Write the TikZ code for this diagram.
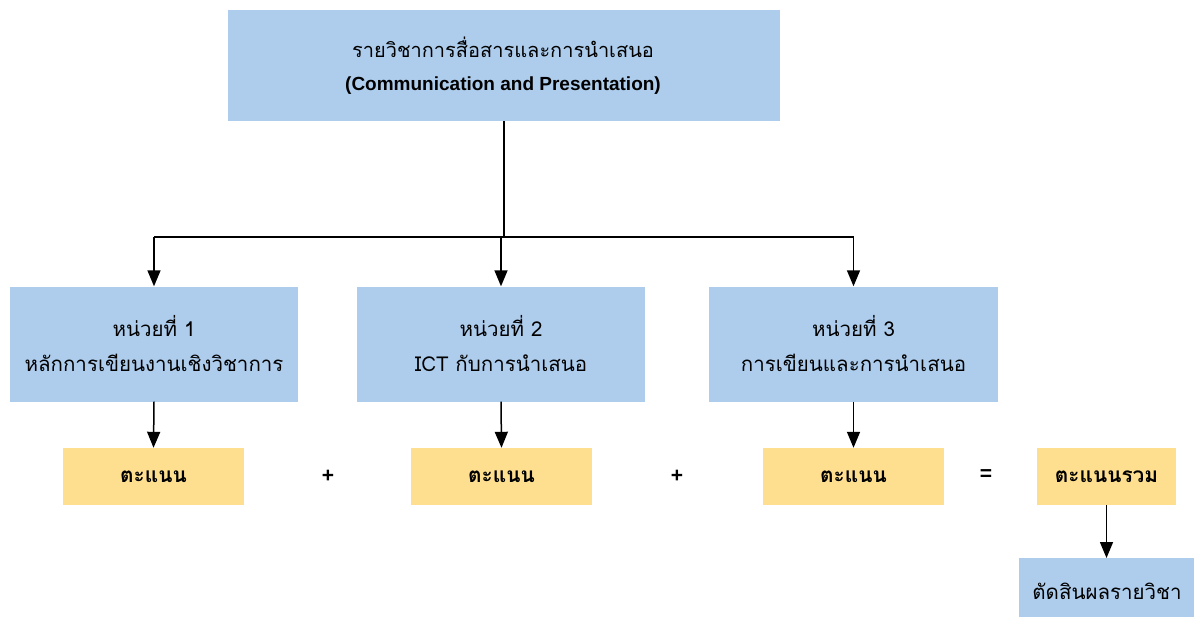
\documentclass[tikz,border=0pt]{standalone}
\usepackage{fontspec}
\newfontfamily\thaifont[Script=Thai]{Loma}
\setmainfont{Liberation Sans}
\usetikzlibrary{arrows.meta}
\definecolor{boxblue}{HTML}{AECDED}
\definecolor{boxyellow}{HTML}{FDDF8F}
\tikzset{
  bluebox/.style={fill=boxblue, inner sep=0pt, align=center, font=\thaifont\fontsize{20.5}{35}\selectfont},
  yellowbox/.style={fill=boxyellow, inner sep=0pt, align=center, font=\thaifont\bfseries\fontsize{20.8}{24}\selectfont},
  arr/.style={-{Triangle[length=16pt,width=13pt]}, line width=1.5pt, black},
  conn/.style={line width=1.5pt, black},
  sym/.style={font=\bfseries\fontsize{21}{24}\selectfont, inner sep=0pt}
}
\begin{document}
\begin{tikzpicture}[x=1pt,y=-1pt]
\useasboundingbox (0,0) rectangle (1194,616);
\clip (0,0) rectangle (1194,616);
\node[bluebox, minimum width=552pt, minimum height=111pt] (top) at (504,65.5) {};
\node[font=\thaifont\fontsize{20}{24}\selectfont, inner sep=0pt] (t1) at (503,47) {รายวิชาการสื่อสารและการนำเสนอ};
\node[font=\bfseries\fontsize{19}{22}\selectfont, inner sep=0pt] (t2) at (503,86) {(Communication and Presentation)};
\node[bluebox, minimum width=288pt, minimum height=115pt] (u1) at (154,344)
  {หน่วยที่ 1\\หลักการเขียนงานเชิงวิชาการ};
\node[bluebox, minimum width=288pt, minimum height=115pt] (u2) at (501,344)
  {หน่วยที่ 2\\ICT กับการนำเสนอ};
\node[bluebox, minimum width=289pt, minimum height=115pt] (u3) at (853.5,344)
  {หน่วยที่ 3\\การเขียนและการนำเสนอ};
\node[yellowbox, minimum width=181pt, minimum height=57pt] (s1) at (153.5,476.5) {ตะแนน};
\node[yellowbox, minimum width=181pt, minimum height=57pt] (s2) at (501.5,476.5) {ตะแนน};
\node[yellowbox, minimum width=181pt, minimum height=57pt] (s3) at (853.5,476.5) {ตะแนน};
\node[yellowbox, minimum width=139pt, minimum height=57pt] (tot) at (1106.5,476.5) {ตะแนนรวม};
\node[bluebox, minimum width=176pt, minimum height=68pt, anchor=north west] (fin) at (1019,558) {};
\node[font=\thaifont\fontsize{20.5}{24}\selectfont, inner sep=0pt] (fintxt) at (1107,591) {ตัดสินผลรายวิชา};
\node[sym] (p1) at (328,476) {+};
\node[sym] (p2) at (677,476) {+};
\node[sym] (eq) at (986,475) {=};
\coordinate (jc) at (504,237);
\coordinate (jl) at (154,237);
\coordinate (jr) at (853.5,237);
\coordinate (jm) at (501,237);
\draw[conn] (top.south) -- (jc);
\draw[conn] (jl) -- (jr);
\draw[arr] (jl) -- (u1.north);
\draw[arr] (jm) -- (u2.north);
\draw[arr] (jr) -- (u3.north);
\draw[arr] (u1.south) -- (s1.north);
\draw[arr] (u2.south) -- (s2.north);
\draw[arr] (u3.south) -- (s3.north);
\draw[arr] (tot.south) -- (fin.north -| tot.south);
\end{tikzpicture}
\end{document}
